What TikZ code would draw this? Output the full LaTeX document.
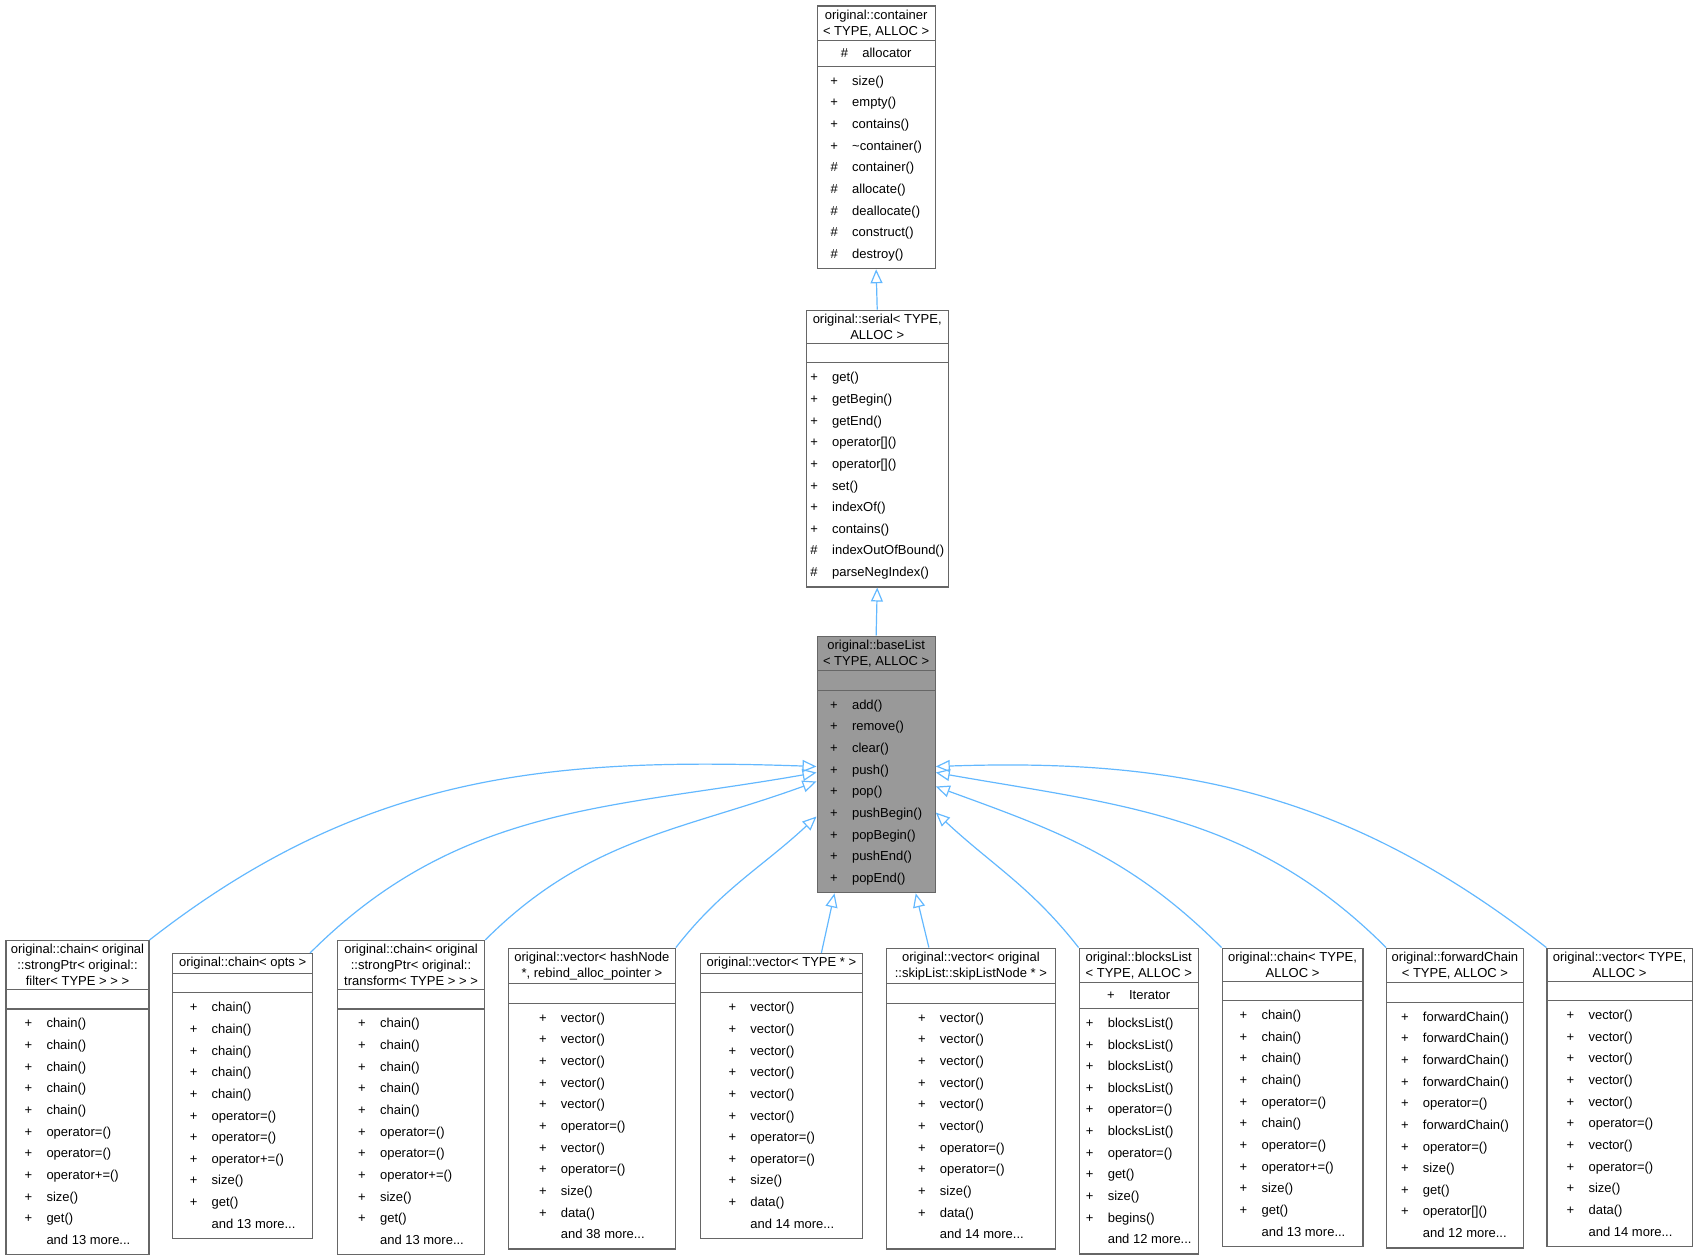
\documentclass[tikz,border=0pt]{standalone}
\usepackage{fontspec}
\setmainfont{Liberation Sans}
\usetikzlibrary{shapes.multipart,arrows.meta}
\definecolor{edgeblue}{HTML}{63B8FF}
\definecolor{boxline}{HTML}{666666}
\tikzset{%
  cls/.style   = {rectangle split, rectangle split parts=3, draw=boxline,%
                  line width=0.6pt, fill=white, align=center,%
                  inner xsep=2pt, inner ysep=1.6pt, anchor=north west,%
                  minimum width={#1*0.5415pt}},%
  cur/.style   = {fill=black!40},%
  inh/.style   = {draw=edgeblue, line width=0.6pt,%
                  -{Triangle[open,length=7pt,width=6pt]}}%
}
\newcommand{\mrows}[1]{{\renewcommand\arraystretch{1.37}%
  \begin{tabular}{@{}c@{\hspace{1.1em}}l@{}}#1\end{tabular}}}
\newcommand{\arows}[1]{{\renewcommand\arraystretch{1.15}%
  \begin{tabular}{@{}c@{\hspace{1.1em}}l@{}}#1\end{tabular}}}
\newcommand{\noattr}{\rule{0pt}{6pt}}
\begin{document}
\begin{tikzpicture}[x=0.5415pt, y=-0.5415pt,
	every node/.style={font=\fontsize{6.5}{7.9}\selectfont}]
	\useasboundingbox (0,0) rectangle (1568,1163);
	% upper hierarchy
	\node[cls=109] (container) at (754,5) {original::container\\< TYPE, ALLOC >
		\nodepart{two}\arows{\# & allocator}
		\nodepart{three}\mrows{+ & size()\\ + & empty()\\ + & contains()\\
		+ & \textasciitilde container()\\ \# & container()\\ \# & allocate()\\
		\# & deallocate()\\ \# & construct()\\ \# & destroy()}};
	\node[cls=129] (serial) at (744,286) {original::serial< TYPE,\\ALLOC >
		\nodepart{two}\noattr
		\nodepart{three}\mrows{+ & get()\\ + & getBegin()\\ + & getEnd()\\
		+ & operator[]()\\ + & operator[]()\\ + & set()\\ + & indexOf()\\
		+ & contains()\\ \# & indexOutOfBound()\\ \# & parseNegIndex()}};
	\node[cls=109,cur] (baseList) at (754,587) {original::baseList\\< TYPE, ALLOC >
		\nodepart{two}\noattr
		\nodepart{three}\mrows{+ & add()\\ + & remove()\\ + & clear()\\
		+ & push()\\ + & pop()\\ + & pushBegin()\\ + & popBegin()\\
		+ & pushEnd()\\ + & popEnd()}};
	% derived classes
	\node[cls=132] (chainFilter) at (5,868) {original::chain< original\\
		::strongPtr< original::\\filter< TYPE > > >
		\nodepart{two}\noattr
		\nodepart{three}\mrows{+ & chain()\\ + & chain()\\ + & chain()\\
		+ & chain()\\ + & chain()\\ + & operator=()\\ + & operator=()\\
		+ & operator+=()\\ + & size()\\ + & get()\\ & and 13 more...}};
	\node[cls=129] (chainOpts) at (159,880) {original::chain< opts >
		\nodepart{two}\noattr
		\nodepart{three}\mrows{+ & chain()\\ + & chain()\\ + & chain()\\
		+ & chain()\\ + & chain()\\ + & operator=()\\ + & operator=()\\
		+ & operator+=()\\ + & size()\\ + & get()\\ & and 13 more...}};
	\node[cls=136] (chainTransform) at (311,868) {original::chain< original\\
		::strongPtr< original::\\transform< TYPE > > >
		\nodepart{two}\noattr
		\nodepart{three}\mrows{+ & chain()\\ + & chain()\\ + & chain()\\
		+ & chain()\\ + & chain()\\ + & operator=()\\ + & operator=()\\
		+ & operator+=()\\ + & size()\\ + & get()\\ & and 13 more...}};
	\node[cls=154] (vecHash) at (469,875) {original::vector< hashNode\\
		*, rebind\_alloc\_pointer >
		\nodepart{two}\noattr
		\nodepart{three}\mrows{+ & vector()\\ + & vector()\\ + & vector()\\
		+ & vector()\\ + & vector()\\ + & operator=()\\ + & vector()\\
		+ & operator=()\\ + & size()\\ + & data()\\ & and 38 more...}};
	\node[cls=150] (vecPtr) at (646,880) {original::vector< TYPE * >
		\nodepart{two}\noattr
		\nodepart{three}\mrows{+ & vector()\\ + & vector()\\ + & vector()\\
		+ & vector()\\ + & vector()\\ + & vector()\\ + & operator=()\\
		+ & operator=()\\ + & size()\\ + & data()\\ & and 14 more...}};
	\node[cls=156] (vecSkip) at (818,875) {original::vector< original\\
		::skipList::skipListNode * >
		\nodepart{two}\noattr
		\nodepart{three}\mrows{+ & vector()\\ + & vector()\\ + & vector()\\
		+ & vector()\\ + & vector()\\ + & vector()\\ + & operator=()\\
		+ & operator=()\\ + & size()\\ + & data()\\ & and 14 more...}};
	\node[cls=110] (blocksList) at (996,875) {original::blocksList\\< TYPE, ALLOC >
		\nodepart{two}\arows{+ & Iterator\hspace{2.2em}}
		\nodepart{three}\mrows{+ & blocksList()\\ + & blocksList()\\
		+ & blocksList()\\ + & blocksList()\\ + & operator=()\\
		+ & blocksList()\\ + & operator=()\\ + & get()\\ + & size()\\
		+ & begins()\\ & and 12 more...}};
	\node[cls=130] (chain) at (1128,875) {original::chain< TYPE,\\ALLOC >
		\nodepart{two}\noattr
		\nodepart{three}\mrows{+ & chain()\\ + & chain()\\ + & chain()\\
		+ & chain()\\ + & operator=()\\ + & chain()\\ + & operator=()\\
		+ & operator+=()\\ + & size()\\ + & get()\\ & and 13 more...}};
	\node[cls=126] (forwardChain) at (1280,875) {original::forwardChain\\< TYPE, ALLOC >
		\nodepart{two}\noattr
		\nodepart{three}\mrows{+ & forwardChain()\\ + & forwardChain()\\
		+ & forwardChain()\\ + & forwardChain()\\ + & operator=()\\
		+ & forwardChain()\\ + & operator=()\\ + & size()\\ + & get()\\
		+ & operator[]()\\ & and 12 more...}};
	\node[cls=134] (vector) at (1428,875) {original::vector< TYPE,\\ALLOC >
		\nodepart{two}\noattr
		\nodepart{three}\mrows{+ & vector()\\ + & vector()\\ + & vector()\\
		+ & vector()\\ + & vector()\\ + & operator=()\\ + & vector()\\
		+ & operator=()\\ + & size()\\ + & data()\\ & and 14 more...}};
	% inheritance edges
	\draw[inh] (serial.north) -- (container.south);
	\draw[inh] (baseList.north) -- (serial.south);
	\draw[inh] (chainFilter.north east) to[out=38,in=178] ([yshift=-1pt]baseList.west);
	\draw[inh] ([xshift=-1.5pt]chainOpts.north east) to[out=45,in=190] ([yshift=-4pt]baseList.west);
	\draw[inh] (chainTransform.north east) to[out=45,in=200] ([yshift=-8.5pt]baseList.west);
	\draw[inh] (vecHash.north east) to[out=52,in=223] ([yshift=-26pt]baseList.west);
	\draw[inh] ([xshift=20pt]vecPtr.north) -- ([xshift=9pt]baseList.south west);
	\draw[inh] ([xshift=-21pt]vecSkip.north) -- ([xshift=-10pt]baseList.south east);
	\draw[inh] (blocksList.north west) to[out=128,in=-43] ([yshift=-24pt]baseList.east);
	\draw[inh] (chain.north west) to[out=135,in=-20] ([yshift=-11pt]baseList.east);
	\draw[inh] (forwardChain.north west) to[out=135,in=-10] ([yshift=-4pt]baseList.east);
	\draw[inh] (vector.north west) to[out=142,in=2] ([yshift=-1pt]baseList.east);
\end{tikzpicture}
\end{document}
